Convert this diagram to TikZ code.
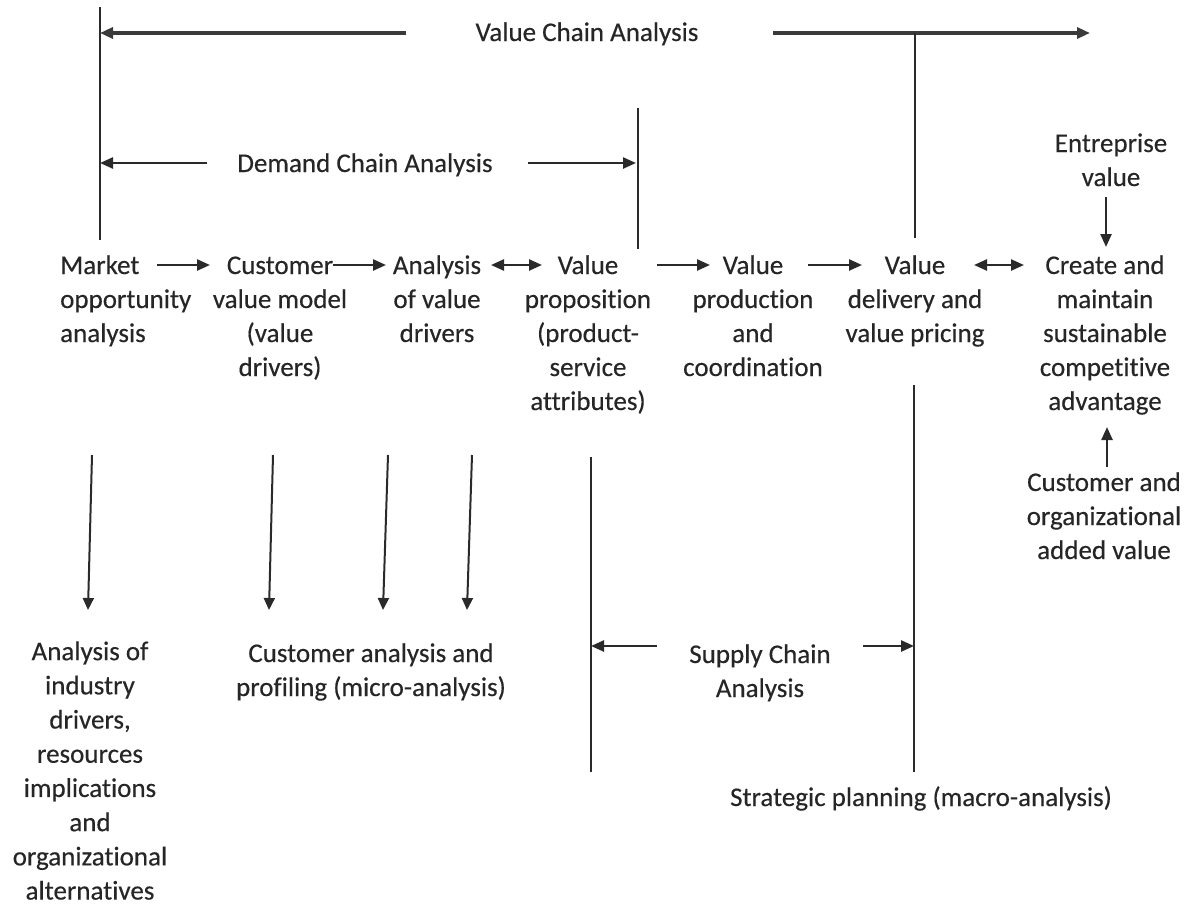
\documentclass[tikz,border=0pt]{standalone}
\usepackage{fontspec}
\setmainfont{Carlito}[Ligatures=NoCommon, FakeBold=0.35]
\usetikzlibrary{arrows.meta}
\definecolor{ink}{HTML}{262626}
\definecolor{rulecol}{HTML}{2A2A2A}
\definecolor{spancol}{HTML}{3A3A3A}
\begin{document}
\begin{tikzpicture}[x=1pt,y=-1pt,
  lbl/.style={font=\fontsize{27}{34}\selectfont, text=ink, inner sep=0pt, align=center, anchor=north},
  tip/.tip={Triangle[length=13pt,width=11pt]},
  link/.style={draw=rulecol, line width=2.4pt, -tip},
  both/.style={draw=rulecol, line width=2.4pt, tip-tip},
  span/.style={draw=spancol, line width=3.4pt, -tip},
  bar/.style={draw=rulecol, line width=2.2pt},
  feed/.style={draw=rulecol, line width=2pt, -{Triangle[length=12pt,width=11pt]}}]
\useasboundingbox (0,0) rectangle (1191,905);

% ---- labels ----
\node[lbl] (vca) at (587,17)  {\strut Value Chain Analysis};
\node[lbl] (dca) at (365,148) {\strut Demand Chain Analysis};
\node[lbl] (ent) at (1111,128) {\strut Entreprise\\value};

\node[lbl, anchor=north west, align=left] (mkt) at (60,250) {\strut Market\\opportunity\\analysis};
\node[lbl] (cvm) at (280,250) {\strut Customer\\value model\\(value\\drivers)};
\node[lbl] (avd) at (437,250) {\strut Analysis\\of value\\drivers};
\node[lbl] (vp)  at (588,250) {\strut Value\\proposition\\(product-\\service\\attributes)};
\node[lbl] (vpc) at (753,250) {\strut Value\\production\\and\\coordination};
\node[lbl] (vdp) at (915,250) {\strut Value\\delivery and\\value pricing};
\node[lbl] (csa) at (1105,250) {\strut Create and\\maintain\\sustainable\\competitive\\advantage};
\node[lbl] (coa) at (1104,467) {\strut Customer and\\organizational\\added value};

\node[lbl, font=\fontsize{27}{34.2}\selectfont] (aid) at (90,636)  {\strut Analysis of\\industry\\drivers,\\resources\\implications\\and\\organizational\\alternatives};
\node[lbl] (cap) at (371,638) {\strut Customer analysis and\\profiling (micro-analysis)};
\node[lbl] (sca) at (760,639) {\strut Supply Chain\\Analysis};
\node[lbl] (spm) at (921,782) {\strut Strategic planning (macro-analysis)};

% ---- bracket end points ----
\coordinate (leftTop)   at (100,7);
\coordinate (leftFoot)  at (100,240);
\coordinate (vcLeftTip) at (100,33);
\coordinate (vcLeft)    at (406,33);
\coordinate (vcRight)   at (773,33);
\coordinate (vcJoin)    at (915,33);
\coordinate (vcEnd)     at (1090,33);
\coordinate (vcFoot)    at (915,238);

\coordinate (dcLeftTip) at (100,163);
\coordinate (dcLeft)    at (207,163);
\coordinate (dcRight)   at (528,163);
\coordinate (dcTip)     at (636,163);
\coordinate (dcTop)     at (638,108);
\coordinate (dcFoot)    at (638,249);

\coordinate (scTop)     at (591,457);
\coordinate (scFoot)    at (591,772);
\coordinate (spTop)     at (914,385);
\coordinate (spFoot)    at (914,772);
\coordinate (scLeftTip) at (591,646);
\coordinate (scLeft)    at (657,646);
\coordinate (scRight)   at (863,646);
\coordinate (scRightTip) at (914,646);

% ---- value chain and demand chain brackets ----
\draw[bar] (leftTop) -- (leftFoot);
\draw[span] (vcLeft) -- (vcLeftTip);
\draw[span] (vcRight) -- (vcEnd);
\draw[bar] (vcJoin) -- (vcFoot);
\draw[link] (dcLeft) -- (dcLeftTip);
\draw[link] (dcRight) -- (dcTip);
\draw[bar] (dcTop) -- (dcFoot);

% ---- supply chain bracket ----
\draw[bar] (scTop) -- (scFoot);
\draw[bar] (spTop) -- (spFoot);
\draw[link] (scLeft) -- (scLeftTip);
\draw[link] (scRight) -- (scRightTip);

% ---- main flow ----
\coordinate (f1a) at (157,265);  \coordinate (f1b) at (210,265);
\coordinate (f2a) at (333,265);  \coordinate (f2b) at (386,265);
\coordinate (f3a) at (491,265);  \coordinate (f3b) at (542,265);
\coordinate (f4a) at (657,265);  \coordinate (f4b) at (710,265);
\coordinate (f5a) at (808,265);  \coordinate (f5b) at (862,265);
\coordinate (f6a) at (974,265);  \coordinate (f6b) at (1024,265);
\draw[link] (f1a) -- (f1b);
\draw[link] (f2a) -- (f2b);
\draw[both] (f3a) -- (f3b);
\draw[link] (f4a) -- (f4b);
\draw[link] (f5a) -- (f5b);
\draw[both] (f6a) -- (f6b);

% ---- value inputs to the competitive advantage ----
\draw[link] (1106,197) coordinate (entOut) -- (1106,247) coordinate (csaIn);
\draw[link] (1107,467) coordinate (coaOut) -- (1107,427) coordinate (csaIn2);

% ---- analyses feeding downwards ----
\draw[feed] (92,455)  coordinate (d1) -- (88,610)  coordinate (d1t);
\draw[feed] (273,455) coordinate (d2) -- (269,610) coordinate (d2t);
\draw[feed] (388,455) coordinate (d3) -- (383,610) coordinate (d3t);
\draw[feed] (472,455) coordinate (d4) -- (467,610) coordinate (d4t);
\end{tikzpicture}
\end{document}
